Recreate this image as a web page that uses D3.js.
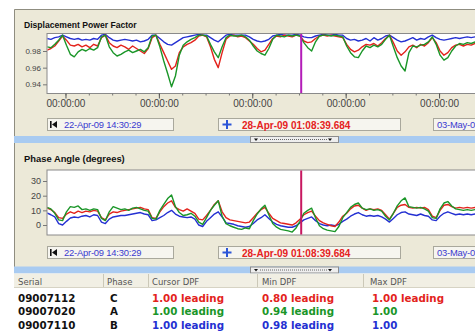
<!DOCTYPE html>
<html><head><meta charset="utf-8">
<script src="https://cdn.jsdelivr.net/npm/d3@7"></script>
<style>
html,body{margin:0;padding:0;background:#fff;overflow:hidden}
svg{display:block}
</style></head><body>
<svg id="c" width="475" height="335"></svg>
<script>
// ---- recording window ----
const startTime = "2009-04-22T14:30:29Z";
const endTime = "2009-05-03T03:52:14Z";
const cursorTime = "2009-04-28T01:08:39.684Z";
const stepHours = 2;

const startLabel = "22-Apr-09 14:30:29";
const cursorLabel = "28-Apr-09 01:08:39.684";
const endLabel = "03-May-09 03:52:14";

// ---- displacement power factor, one sample every 2 h ----
const dpfRed = [.981,.983,.986,.992,.998,
.993,.987,.986,.988,.985,.987,.984,.988,.986,.996,.999,
.990,.986,.984,.987,.985,.982,.986,.983,.980,.977,.983,.996,.999,
.988,.978,.968,.958,.962,.978,.985,.988,.990,.993,.998,.999,.997,
.985,.970,.960,.978,.994,.998,.999,.997,.998,.996,
.992,.988,.983,.979,.981,.988,.995,.998,.997,.999,.998,.997,.999,
.998,.992,.990,.991,.995,.998,.999,.998,.999,.998,.997,
.996,.988,.982,.979,.981,.985,.988,.987,.989,.986,.990,.995,.999,
.990,.980,.975,.979,.985,.987,.984,.988,.986,.990,.996,
.990,.980,.975,.978,.984,.987,.988,.986,.988,.987,.989,.988];
const dpfGreen = [.985,.984,.988,.993,.999,
.987,.976,.973,.979,.982,.980,.983,.981,.984,.997,.999,
.985,.978,.974,.976,.979,.981,.978,.980,.982,.979,.984,.998,.999,
.985,.968,.953,.937,.950,.975,.987,.991,.994,.996,.999,.999,.998,
.988,.979,.972,.985,.996,.999,.998,.998,.999,.997,
.993,.986,.980,.977,.975,.983,.994,.999,.998,.997,.999,.998,.999,
.998,.990,.984,.980,.991,.998,.999,.999,.998,.999,.998,
.997,.986,.978,.973,.972,.980,.986,.984,.987,.985,.988,.994,.999,
.985,.972,.962,.956,.978,.986,.985,.987,.988,.991,.997,
.988,.975,.969,.972,.980,.986,.989,.988,.990,.989,.991,.990];
const dpfBlue = [.995,.994,.996,.997,.999,
.997,.995,.994,.995,.993,.994,.993,.995,.994,.999,1.000,
.996,.993,.992,.993,.994,.993,.992,.993,.991,.992,.994,.999,.999,
.995,.991,.988,.987,.990,.993,.996,.997,.998,.999,1.000,.999,.999,
.996,.993,.991,.995,.999,1.000,.999,.999,.999,.999,
.997,.994,.992,.991,.992,.994,.998,.999,1.000,.999,.999,.999,1.000,
.999,.997,.996,.996,.998,.999,1.000,.999,.999,1.000,.999,
.999,.995,.993,.994,.992,.993,.995,.992,.996,.993,.995,.998,.999,
.996,.993,.991,.992,.994,.996,.993,.995,.994,.997,.999,
.996,.994,.993,.994,.995,.996,.995,.996,.997,.996,.997,.996];

// ---- phase angle in degrees, same sampling ----
const angRed = [11.6,10.5,8.5,5.0,4.5,
7.5,9.0,8.0,9.5,8.5,9.5,9.0,10.0,9.5,5.0,3.5,
7.5,9.0,8.5,9.5,10.0,10.5,11.0,11.5,12.0,11.0,10.5,5.0,4.5,
9.0,12.5,15.0,16.5,12.0,10.5,9.5,11.0,9.5,8.0,4.0,3.5,6.5,
10.0,14.0,16.5,9.0,5.0,3.5,3.0,2.5,2.0,1.5,
2.0,5.0,8.0,10.5,12.0,8.0,4.5,3.0,1.5,1.0,0.5,0.0,1.5,
4.0,7.0,8.5,9.5,6.0,3.0,1.5,0.5,-0.5,-1.0,2.0,
6.0,8.0,11.0,13.0,13.5,11.5,10.0,11.0,10.5,11.0,10.0,7.0,4.0,
8.0,12.0,13.5,14.0,12.0,11.5,12.0,11.5,12.0,10.5,6.0,
5.0,10.0,13.5,14.0,12.5,11.5,12.0,11.5,12.0,11.5,12.0,11.5];
const angGreen = [12.0,11.0,8.0,3.5,3.0,
9.0,12.5,12.0,13.0,10.5,11.0,10.0,11.0,10.5,4.5,3.0,
9.0,12.5,11.5,10.5,11.0,10.0,11.5,12.0,11.0,10.0,9.5,4.5,4.0,
10.0,14.0,18.0,20.5,12.5,8.5,6.5,7.0,8.0,6.0,2.0,0.5,5.0,
10.0,13.5,16.5,6.0,1.0,-0.5,-1.5,-2.5,-3.0,-2.0,
-2.5,3.0,7.5,11.0,13.5,7.0,1.0,-1.5,-3.0,-3.5,-4.0,-4.8,-2.0,
2.5,8.0,10.0,11.5,5.0,-0.5,-2.5,-3.5,-4.0,-4.5,-1.0,
5.0,8.5,12.0,14.0,15.0,11.5,10.5,11.0,10.0,10.5,9.5,6.0,3.5,
8.0,13.0,16.5,18.5,12.5,12.0,11.5,12.0,11.0,9.5,5.0,
4.5,11.0,15.0,16.0,13.0,11.0,10.5,10.0,10.5,10.0,10.5,10.0];
const angBlue = [8.2,7.0,5.5,1.0,0.0,
2.5,4.8,5.5,5.0,6.0,6.5,5.5,7.0,6.5,2.0,1.0,
4.0,5.5,6.0,6.5,6.5,7.0,7.5,8.0,8.5,7.5,7.0,3.0,3.5,
5.0,6.5,8.5,10.0,7.5,6.0,5.5,5.0,5.5,4.0,0.0,-1.0,2.5,
5.0,7.5,9.0,5.5,1.5,1.0,0.5,-0.5,-1.0,-1.5,
-1.0,1.0,3.5,5.0,7.0,4.5,2.0,0.5,-0.5,-1.0,-1.5,-1.5,-0.5,
1.5,3.5,4.5,5.5,3.0,1.0,0.0,-0.5,0.0,-0.5,0.5,
2.5,4.0,6.0,7.5,8.5,7.0,6.0,6.5,6.0,6.5,5.5,4.0,2.0,
4.5,7.0,8.5,9.0,7.5,7.0,6.5,7.5,6.5,6.0,3.5,
3.0,6.0,8.0,9.0,8.0,7.0,7.5,7.0,7.5,7.0,7.5,7.0];

const dpfTicks = [0.94, 0.96, 0.98];
const angTicks = [0, 10, 20, 30];

// ---- summary table ----
const columns = ["Serial", "Phase", "Cursor DPF", "Min DPF", "Max DPF"];
const serials = ["09007112", "09007020", "09007110"];
const phases = ["C", "A", "B"];
const cursorDpf = ["1.00 leading", "1.00 leading", "1.00 leading"];
const minDpf = ["0.80 leading", "0.94 leading", "0.98 leading"];
const maxDpf = ["1.00 leading", "1.00", "1.00"];

const seriesColors = ["#e3231c", "#1a9628", "#2430d2"];   // red, green, blue
const UI = "Liberation Sans, Arial, sans-serif";
const BOLD = "DejaVu Sans, Verdana, sans-serif";

const svg = d3.select("#c");
const W = 475;
const t0 = new Date(startTime);
const t1 = new Date(endTime);
const times = dpfRed.map((_, i) => new Date(+t0 + i * stepHours * 3600e3));

const plotL = 47, plotR = 540;
const x = d3.scaleUtc().domain([t0, t1]).range([plotL, plotR]);

// panel background and frame
svg.append("rect").attr("x", 14).attr("y", 9).attr("width", W - 14).attr("height", 258).attr("fill", "#ece9d8");
svg.append("path").attr("d", `M14.5,267V9.5H${W}`).attr("fill", "none").attr("stroke", "#8f8d80");

const defs = svg.append("defs");
// the window cuts the right end of the panel
defs.append("clipPath").attr("id", "win").append("rect").attr("x", 0).attr("y", 0).attr("width", W).attr("height", 335);

function panel(opt) {
  const { id, title, titleSize, titleY, top, bottom, y, ticks, fmt, labelSize, series, cursorColor, axisLabels, dateY } = opt;
  svg.append("text").attr("x", 24).attr("y", titleY).text(title)
    .attr("font-family", UI).attr("font-weight", "bold").attr("font-size", titleSize).attr("fill", "#111");

  svg.append("rect").attr("x", plotL).attr("y", top).attr("width", plotR - plotL).attr("height", bottom - top)
    .attr("fill", "#fff").attr("stroke", "#8a8a8a");

  defs.append("clipPath").attr("id", id).append("rect")
    .attr("x", plotL + 0.5).attr("y", top + 0.5).attr("width", W - plotL).attr("height", bottom - top - 1);

  // y axis
  const ya = svg.append("g").attr("transform", `translate(${plotL},0)`)
    .call(d3.axisLeft(y).tickValues(ticks).tickFormat(fmt).tickSize(4).tickPadding(2));
  ya.select(".domain").remove();
  ya.selectAll("line").attr("stroke", "#777");
  ya.selectAll("text").attr("font-family", UI).attr("font-size", labelSize).attr("fill", "#444");

  const g = svg.append("g").attr("clip-path", `url(#${id})`);
  [2, 0, 1].forEach(k => {
    const line = d3.line().x((d, i) => x(times[i])).y(d => y(d));
    g.append("path").datum(series[k]).attr("d", line)
      .attr("fill", "none").attr("stroke", seriesColors[k]).attr("stroke-width", 1.4)
      .attr("stroke-linejoin", "round");
  });

  // cursor marker
  const cx = x(new Date(cursorTime));
  g.append("line").attr("x1", cx).attr("x2", cx).attr("y1", top).attr("y2", bottom)
    .attr("stroke", cursorColor).attr("stroke-width", 2);

  if (axisLabels) {
    const visible = d => x(d) < W - 20;
    const minorTicks = d3.utcHour.every(12).range(t0, t1).filter(visible);
    const majorTicks = d3.utcDay.every(2).range(t0, t1).filter(visible);
    const minor = svg.append("g").attr("transform", `translate(0,${bottom})`)
      .call(d3.axisBottom(x).tickValues(minorTicks).tickSize(2).tickFormat(""));
    minor.select(".domain").remove();
    minor.selectAll("line").attr("stroke", "#777");
    const major = svg.append("g").attr("transform", `translate(0,${bottom})`)
      .call(d3.axisBottom(x).tickValues(majorTicks).tickSize(5).tickFormat(d3.utcFormat("%H:%M:%S")));
    major.select(".domain").remove();
    major.selectAll("line").attr("stroke", "#555");
    major.selectAll("text").attr("font-family", UI).attr("font-size", 10).attr("fill", "#444")
      .attr("y", 13.5).attr("dy", 0);
  }

  // time-range readouts
  const rd = svg.append("g").attr("clip-path", "url(#win)");
  [[plotL, 173], [218, 400], [433, 500]].forEach(([a, b]) => {
    rd.append("rect").attr("x", a + 0.5).attr("y", dateY - 9.5).attr("width", b - a).attr("height", 12)
      .attr("fill", "#f6f5ef").attr("stroke", "#a9a89c");
  });
  // rewind glyph
  rd.append("rect").attr("x", plotL + 3).attr("y", dateY - 7).attr("width", 1.6).attr("height", 7).attr("fill", "#111");
  rd.append("path").attr("d", `M${plotL + 5},${dateY - 3.5}l5,-3.5v7z`).attr("fill", "#111");
  rd.append("text").attr("x", 64).attr("y", dateY).text(startLabel)
    .attr("font-family", UI).attr("font-size", 9.4).attr("letter-spacing", -0.2).attr("fill", "#3a3ad0");
  // cursor glyph
  const gx = 227, gy = dateY - 3.5;
  rd.append("path").attr("d", `M${gx - 4.5},${gy}H${gx + 4.5}M${gx},${gy - 4.5}V${gy + 4.5}`)
    .attr("stroke", "#2b55d8").attr("stroke-width", 2);
  rd.append("text").attr("x", 242).attr("y", dateY + 0.5).text(cursorLabel)
    .attr("font-family", UI).attr("font-weight", "bold").attr("font-size", 10).attr("fill", "#e52222");
  rd.append("text").attr("x", 437).attr("y", dateY).text(endLabel)
    .attr("font-family", UI).attr("font-size", 9.4).attr("letter-spacing", -0.2).attr("fill", "#3a3ad0");
}

panel({
  id: "clipDpf", title: "Displacement Power Factor", titleSize: 8.6, titleY: 27.5, top: 33.5, bottom: 93.5,
  y: d3.scaleLinear().domain([0.929, 1.001]).range([93.5, 33.5]),
  ticks: dpfTicks, fmt: d3.format(".2f"), labelSize: 8, series: [dpfRed, dpfGreen, dpfBlue],
  cursorColor: "#b31cb8", axisLabels: true, dateY: 128
});

// splitter bar
function splitter(y0) {
  svg.append("rect").attr("x", 14).attr("y", y0).attr("width", W - 14).attr("height", 7).attr("fill", "#a9cbf1");
  svg.append("rect").attr("x", 250.5).attr("y", y0 + 0.5).attr("width", 88).attr("height", 6)
    .attr("fill", "#eeeeee").attr("stroke", "#8c8c8c");
  svg.append("line").attr("x1", 260).attr("x2", 328).attr("y1", y0 + 3.5).attr("y2", y0 + 3.5)
    .attr("stroke", "#666").attr("stroke-dasharray", "1,1");
  [256, 330].forEach(tx => svg.append("path").attr("d", `M${tx - 2},${y0 + 2.5}h4l-2,2.5z`).attr("fill", "#111"));
}
splitter(136);

panel({
  id: "clipAng", title: "Phase Angle (degrees)", titleSize: 9.4, titleY: 162, top: 170, bottom: 235,
  y: d3.scaleLinear().domain([-6.8, 37.5]).range([235, 170]),
  ticks: angTicks, fmt: d3.format("d"), labelSize: 9, series: [angRed, angGreen, angBlue],
  cursorColor: "#c81860", axisLabels: false, dateY: 256
});

splitter(266.5);

// table
const colX = [18, 107, 152, 262, 370];
const sepX = [103, 148, 257, 363];
svg.append("rect").attr("x", 14).attr("y", 273.5).attr("width", W - 14).attr("height", 14).attr("fill", "#f1efe4");
svg.append("line").attr("x1", 14).attr("x2", W).attr("y1", 287.5).attr("y2", 287.5).attr("stroke", "#d6d3c4");
sepX.forEach(s => svg.append("line").attr("x1", s + 0.5).attr("x2", s + 0.5).attr("y1", 274).attr("y2", 287)
  .attr("stroke", "#cbc8b8"));
columns.forEach((c, i) => svg.append("text").attr("x", colX[i]).attr("y", 284.5).text(c)
  .attr("font-family", "DejaVu Sans, sans-serif").attr("font-size", 8.5).attr("fill", "#555"));

const rowY = [301.5, 315, 328.5];
serials.forEach((s, r) => {
  const col = seriesColors[r];
  [[s, "#111", colX[0]], [phases[r], "#111", 110], [cursorDpf[r], col, colX[2]],
   [minDpf[r], col, colX[3]], [maxDpf[r], col, 372]]
    .forEach(([t, c, cx]) => svg.append("text").attr("x", cx).attr("y", rowY[r]).text(t)
      .attr("font-family", BOLD).attr("font-weight", "bold").attr("font-size", 10.3).attr("fill", c));
});
</script>
</body></html>
